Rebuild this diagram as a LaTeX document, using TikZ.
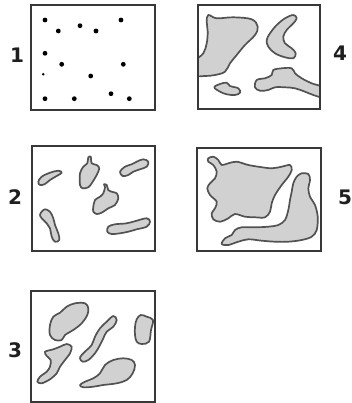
\documentclass[tikz,border=0pt]{standalone}
\usepackage{fontspec}
\setmainfont{DejaVu Sans}
\begin{document}
\begin{tikzpicture}[x=1pt,y=-1pt,
  frame/.style={draw=black!78,line width=2pt},
  blob/.style={draw=black!68,fill=black!18,line width=1.7pt,line join=round},
  dot/.style={fill=black,draw=none},
  lab/.style={font=\fontsize{20}{20}\selectfont\bfseries,text=black!88,inner sep=0pt}]
\useasboundingbox (0,0) rectangle (351,403);
% ---------- box 1
\draw[frame] (31,5) rectangle (155,110);
\foreach \p in {(45,20),(58.3,31),(80,25.7),(96,31),(121,20),(45,53.3),(61.7,64.3),(123.3,64.3),(90.7,76),(45,98.7),(74.3,98.7),(111,93.7),(129.3,98.7)}
  \fill[dot] \p circle (2.4);
\fill[dot] (43.3,74.3) circle (1.4);
\node[lab] (l1) at (17,55) {1};
% ---------- box 4
\begin{scope}
\clip (198,5) rectangle (320,109);
\draw[blob] plot[smooth cycle,tension=0.6] coordinates {(208.3,15) (216.7,18.3) (233.3,17.3) (251.7,19.3) (257.7,26.7) (255,35) (245,45) (236.7,55) (230,63.3) (225,71.7) (215,75) (205,76) (195,75) (195,61.7) (203.3,53.3) (206.7,43.3) (207.7,31.7) (206.7,21.7)};
\draw[blob] plot[smooth cycle,tension=0.6] coordinates {(293.3,15) (296.7,18.3) (293.3,23.3) (286.7,30) (283.3,36.7) (285,43.3) (291.7,48.3) (295.7,53.3) (293.3,58.3) (285,57.3) (275,53.3) (268.3,46.7) (266.7,40) (270,33.3) (276.7,25) (285,18.3)};
\draw[blob] plot[smooth cycle,tension=0.6] coordinates {(214.3,87.3) (220,84) (226.7,82.7) (230,86) (238.3,88.3) (240,92.7) (235,95) (226.7,94.3) (220,91.7)};
\draw[blob] plot[smooth cycle,tension=0.6] coordinates {(256.7,80) (265,78.3) (271.7,75) (273.3,70) (281.7,68.3) (291.7,68.3) (295,73.3) (301.7,78.3) (311.7,83.3) (322,87.3) (322,96.7) (313.3,95) (305,91.7) (295,88.3) (285,87.3) (275,87.3) (268.3,90) (260,90.7) (255,87.3)};
\end{scope}
\draw[frame] (198,5) rectangle (320,109);
\node[lab] (l4) at (340,53) {4};
% ---------- box 2
\draw[frame] (32,146) rectangle (155,251);
\draw[blob] plot[smooth cycle,tension=0.6] coordinates {(38.3,181.7) (41.7,176.7) (50,172.7) (58.3,170.7) (61.7,172.7) (56.7,176) (50,180) (45,184) (40,185)};
\draw[blob] plot[smooth cycle,tension=0.5] coordinates {(80,173.3) (83.3,166.7) (87.3,163.3) (88.3,157.3) (90.7,156.7) (91.7,163.3) (96.7,165) (99.3,168.3) (96.7,175) (91.7,183.3) (88.3,187.3) (82.7,188.3) (80,185)};
\draw[blob] plot[smooth cycle,tension=0.6] coordinates {(120,171.7) (125,166.7) (131.7,164.3) (136.7,161.7) (143.3,159.3) (148.3,161.7) (146.7,166.7) (140,169.3) (133.3,171.7) (128.3,175) (122.7,176)};
\draw[blob] plot[smooth cycle,tension=0.5] coordinates {(93.3,206.7) (95,200) (100,196.7) (103.3,193.3) (105,187.3) (104,184.3) (106.7,185) (108.3,190) (111.7,191.7) (116.7,193.3) (118.3,198.3) (115,205) (108.3,208.3) (101.7,212.7) (96.7,214) (93.3,211.7)};
\draw[blob] plot[smooth cycle,tension=0.6] coordinates {(41.7,211.7) (45,209.3) (50,211.7) (53.3,218.3) (55,225) (58.3,233.3) (59.3,240) (55,241.7) (51.7,236.7) (50,228.3) (46.7,223.3) (41.7,218.3) (40,215)};
\draw[blob] plot[smooth cycle,tension=0.6] coordinates {(108.3,226.7) (115,224.3) (126.7,223.3) (136.7,220.7) (146.7,218.3) (150,221.7) (146.7,226.7) (136.7,229.3) (128.3,231.7) (120,233.3) (111.7,234) (107.3,231.7)};
\node[lab] (l2) at (15,197) {2};
% ---------- box 5
\draw[frame] (197,148) rectangle (321,251);
\draw[blob] plot[smooth cycle,tension=0.55] coordinates {(208.3,158.3) (213.3,156.7) (218.3,160) (221.7,165) (228.3,163.3) (236.7,161.7) (248.3,165) (258.3,166.7) (271.7,168.3) (281.7,166.7) (290,165) (291.7,170) (288.3,176.7) (281.7,185) (275,195) (271.7,203.3) (270,211.7) (265,217.3) (255,217.3) (245,216.7) (235,214) (228.3,218.3) (220,221.7) (213.3,219.3) (211.7,213.3) (215,208.3) (216.7,201.7) (210,195) (207.3,188.3) (210,183.3) (215,178.3) (216.7,171.7) (213.3,165) (208.3,161.7)};
\draw[blob] plot[smooth cycle,tension=0.55] coordinates {(293.3,183.3) (296.7,176.7) (301.7,173.3) (308.3,174) (310,180) (308.3,188.3) (310,196.7) (315,205) (317.7,216.7) (316.7,230) (311.7,236.7) (301.7,240) (288.3,241.7) (275,241.7) (261.7,240.7) (248.3,239.3) (238.3,241.7) (228.3,245) (221.7,244) (225,238.3) (231.7,235) (235,230) (241.7,227.3) (255,227.3) (268.3,226.7) (278.3,225) (285,220) (288.3,210) (290,200) (291.7,191.7)};
\node[lab] (l5) at (345,197) {5};
% ---------- box 3
\begin{scope}
\clip (31,291) rectangle (155,401.5);
\draw[blob] plot[smooth cycle,tension=0.6] coordinates {(50,325) (53.3,316.7) (60,312.7) (66.7,306.7) (75,303.3) (85,303.3) (88.3,308.3) (87.3,315) (81.7,323.3) (73.3,330) (65,335) (61.7,340) (55,340) (50,335)};
\draw[blob] plot[smooth cycle,tension=0.6] coordinates {(81.7,355) (86.7,350) (91.7,345) (95,336.7) (100,328.3) (106.7,321.7) (113.3,316) (116.7,320) (113.3,326.7) (106.7,331.7) (103.3,338.3) (100,345) (95,353.3) (88.3,360) (82.7,361.7) (80,358.3)};
\draw[blob] plot[smooth cycle,tension=0.6] coordinates {(135,326.7) (136.7,319.3) (140.7,315) (146.7,316.7) (153,320) (151,330) (149,341.7) (141.7,344) (136.7,341.7) (135,335)};
\draw[blob] plot[smooth cycle,tension=0.5] coordinates {(45,351.7) (53.3,349.3) (60,346.7) (66.7,344) (71.7,346.7) (70,353.3) (65,360) (60,366.7) (56.7,373.3) (50,379.3) (41.7,383.3) (37.3,381.7) (40,376.7) (46.7,371.7) (50,366.7) (50.7,360) (46.7,356)};
\draw[blob] plot[smooth cycle,tension=0.6] coordinates {(80,385) (85,381.7) (93.3,378.3) (100,373.3) (105,365) (113.3,360) (123.3,358.3) (131.7,360) (135,365) (132.7,373.3) (126.7,380) (116.7,383.3) (103.3,385) (93.3,386.7) (83.3,387.3)};
\end{scope}
\draw[frame] (31,291) rectangle (155,401.5);
\node[lab] (l3) at (15,350) {3};
\end{tikzpicture}
\end{document}
